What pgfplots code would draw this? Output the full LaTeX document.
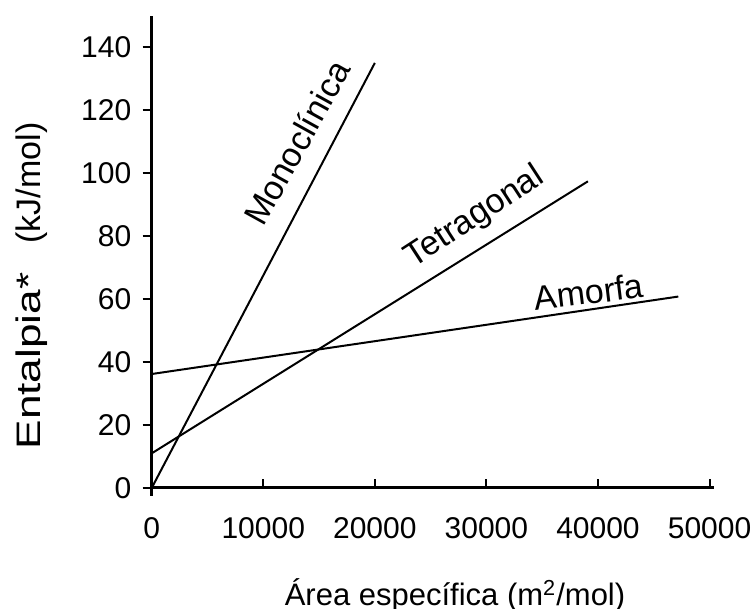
\documentclass[border=0pt]{standalone}
\usepackage{fontspec}
\setmainfont{Liberation Sans}
\usepackage{pgfplots}
\pgfplotsset{compat=1.18}
\begin{document}
\begin{tikzpicture}
\useasboundingbox (0,0) rectangle (377.5pt,304.5pt);
\begin{axis}[
  at={(75.85pt,60.5pt)}, anchor=south west,
  scale only axis, width=281.15pt, height=236.15pt,
  xmin=0, xmax=50400, ymin=0, ymax=150,
  axis x line=bottom, axis y line=left,
  axis line style={-, line width=1.5pt, black},
  y axis line style={shorten <=-4pt},
  scaled x ticks=false, scaled y ticks=false,
  xtick={0,10000,20000,30000,40000,50000},
  ytick={0,20,40,60,80,100,120,140},
  xticklabel={\fontsize{15}{17}\selectfont\pgfmathprintnumber[fixed,1000 sep={},assume math mode=true]{\tick}},
  yticklabel={\fontsize{15}{17}\selectfont\pgfmathprintnumber[fixed,1000 sep={},assume math mode=true]{\tick}},
  minor tick num=0,
  tick align=inside, major tick length=4.5pt,
  tick style={black, line width=1pt},
  ytick style={xshift=-4.5pt},
  xticklabel style={anchor=north, inner sep=0pt, yshift=-14.35pt},
  yticklabel style={anchor=east, inner sep=0pt, xshift=-10pt},
  xlabel={\fontsize{15.5}{18}\selectfont Área específica (m\textsuperscript{2}/mol)},
  xlabel style={at={(axis description cs:0.5394,-0.2498)}, anchor=base, inner sep=0pt},
  ylabel={\fontsize{17}{20}\selectfont\scalebox{1.3}[1]{Entalpia*}\hspace{0.85em}(kJ/mol)},
  ylabel style={at={(axis description cs:-0.1986,0.4277)}, anchor=base, inner sep=0pt},
  clip=false,
]
\addplot[black, line width=1pt] coordinates {(0,0) (20000,135)};
\addplot[black, line width=1pt] coordinates {(0,11) (39100,97.4)};
\addplot[black, line width=1pt] coordinates {(0,36.2) (47200,60.8)};
\node[rotate=61, font=\fontsize{17}{20}\selectfont] at (axis cs:13020,109.7) {Monoclínica};
\node[rotate=33, font=\fontsize{17}{20}\selectfont] at (axis cs:28960,85.9) {Tetragonal};
\node[rotate=7, font=\fontsize{17}{20}\selectfont] at (axis cs:39170,62.3) {Amorfa};
\end{axis}
\end{tikzpicture}
\end{document}
